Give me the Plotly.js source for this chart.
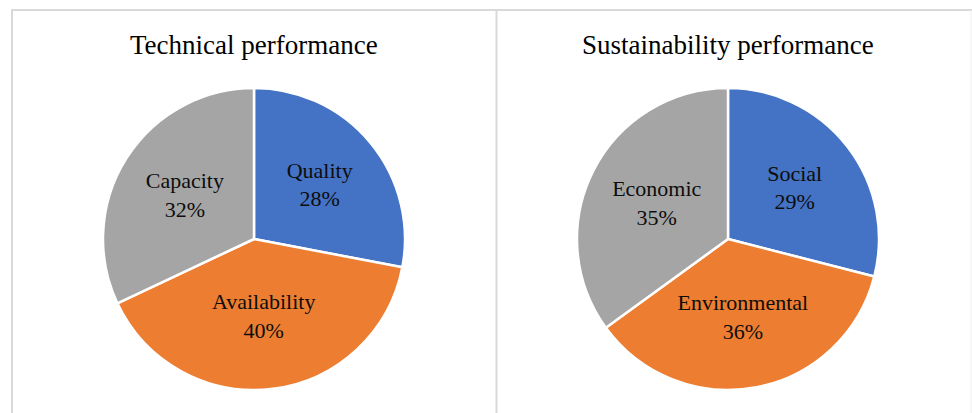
<!DOCTYPE html>
<html>
<head>
<meta charset="utf-8">
<script src="https://cdn.plot.ly/plotly-3.0.1.min.js"></script>
<style>html,body{margin:0;padding:0;background:#fff;}#chart{width:972px;height:413px;}</style>
</head>
<body>
<div id="chart"></div>
<script>
const techLabels = ["Quality", "Availability", "Capacity"];
const techValues = [28, 40, 32];
const sustLabels = ["Social", "Environmental", "Economic"];
const sustValues = [29, 36, 35];
const sliceColors = ["#4472C4", "#ED7D31", "#A5A5A5"];
const titles = ["Technical performance", "Sustainability performance"];

const W = 972, H = 413;
const px = x => x / W;
const py = y => 1 - y / H;

const common = {
  type: "pie",
  sort: false,
  direction: "clockwise",
  rotation: 0,
  textinfo: "label+percent",
  textposition: "inside",
  insidetextorientation: "horizontal",
  texttemplate: "%{label}<br>%{percent:.0%}",
  hoverinfo: "label+percent",
  marker: {colors: sliceColors, line: {color: "#ffffff", width: 2.5}},
  textfont: {family: "Liberation Serif, Times New Roman, serif", size: 22, color: "#0d0d0d"},
  showlegend: false
};

const data = [
  Object.assign({}, common, {
    labels: techLabels, values: techValues,
    domain: {x: [px(103), px(405)], y: [py(390), py(88)]}
  }),
  Object.assign({}, common, {
    labels: sustLabels, values: sustValues,
    domain: {x: [px(577), px(879)], y: [py(390), py(88)]}
  })
];

const lineStyle = {color: "#d9d9d9", width: 2};
const layout = {
  width: W, height: H,
  margin: {l: 0, r: 0, t: 0, b: 0},
  paper_bgcolor: "#ffffff",
  plot_bgcolor: "#ffffff",
  shapes: [
    {type: "line", xref: "paper", yref: "paper", x0: px(11), x1: px(972), y0: py(10), y1: py(10), line: lineStyle},
    {type: "line", xref: "paper", yref: "paper", x0: px(12), x1: px(12), y0: py(10), y1: py(413), line: lineStyle},
    {type: "line", xref: "paper", yref: "paper", x0: px(496.5), x1: px(496.5), y0: py(10), y1: py(413), line: lineStyle},
    {type: "line", xref: "paper", yref: "paper", x0: px(971), x1: px(971), y0: py(10), y1: py(413), line: {color: "#eeeeee", width: 1}}
  ],
  annotations: [
    {text: titles[0], xref: "paper", yref: "paper", x: px(254), y: py(45), xanchor: "center", yanchor: "middle", showarrow: false,
     font: {family: "Liberation Serif, Times New Roman, serif", size: 27, color: "#000000"}},
    {text: titles[1], xref: "paper", yref: "paper", x: px(728), y: py(45), xanchor: "center", yanchor: "middle", showarrow: false,
     font: {family: "Liberation Serif, Times New Roman, serif", size: 27, color: "#000000"}}
  ]
};

Plotly.newPlot("chart", data, layout, {displayModeBar: false, staticPlot: true});
</script>
</body>
</html>
